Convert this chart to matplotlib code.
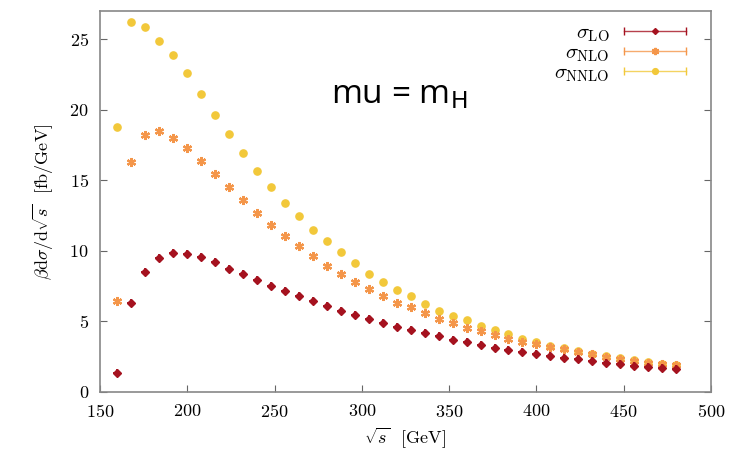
import numpy as np
import matplotlib
matplotlib.use("Agg")
from matplotlib import pyplot as plt
from matplotlib.lines import Line2D
from matplotlib.legend_handler import HandlerBase

# centre-of-mass energy bins [GeV]
sqrt_s = np.arange(160, 481, 8)

# beta * dsigma/dsqrt(s) [fb/GeV], scale mu = m_H
sigma_lo = [1.38, 6.31, 8.49, 9.50, 9.86, 9.79, 9.55, 9.18, 8.75, 8.35,
            7.97, 7.52, 7.16, 6.81, 6.43, 6.10, 5.72, 5.44, 5.16, 4.87,
            4.64, 4.38, 4.16, 3.95, 3.72, 3.54, 3.33, 3.15, 2.98, 2.84,
            2.70, 2.55, 2.44, 2.32, 2.20, 2.09, 1.96, 1.87, 1.77, 1.70, 1.63]
sigma_nlo = [6.45, 16.27, 18.23, 18.47, 17.99, 17.28, 16.38, 15.44, 14.50, 13.63,
             12.65, 11.87, 11.06, 10.35, 9.65, 8.94, 8.35, 7.76, 7.28, 6.77,
             6.34, 5.99, 5.58, 5.20, 4.87, 4.52, 4.30, 4.02, 3.79, 3.57,
             3.38, 3.22, 3.03, 2.84, 2.67, 2.51, 2.37, 2.23, 2.09, 1.99, 1.89]
sigma_nnlo = [18.80, 26.24, 25.84, 24.90, 23.90, 22.60, 21.13, 19.65, 18.28, 16.91,
              15.63, 14.50, 13.38, 12.44, 11.49, 10.67, 9.89, 9.13, 8.35, 7.76,
              7.23, 6.81, 6.22, 5.74, 5.39, 5.11, 4.68, 4.38, 4.09, 3.79,
              3.55, 3.26, 3.10, 2.91, 2.72, 2.55, 2.41, 2.27, 2.13, 2.01, 1.91]

labels = [r'$\sigma_{\rm LO}$', r'$\sigma_{\rm NLO}$', r'$\sigma_{\rm NNLO}$']
colors = ['#a5121f', '#f4964a', '#f2c83a']

plt.rcParams['font.family'] = 'serif'
plt.rcParams['font.serif'] = ['cmr10', 'DejaVu Serif']
plt.rcParams['mathtext.fontset'] = 'cm'
plt.rcParams['axes.formatter.use_mathtext'] = True


class ErrKey(HandlerBase):
    """gnuplot-like key sample: horizontal bar with end caps and a point."""

    def create_artists(self, legend, orig, xd, yd, width, height, fontsize, trans):
        y = yd + height / 2
        col = orig.get_color()
        bar = Line2D([xd, xd + width], [y, y], color=col, lw=1, alpha=0.8)
        caps = Line2D([xd, xd + width], [y, y], ls='none', marker='|',
                      ms=6, mew=1, color=col)
        pt = Line2D([xd + width / 2], [y], ls='none', marker=orig.get_marker(),
                    ms=orig.get_markersize() * 0.8, mew=orig.get_markeredgewidth(),
                    color=col)
        for a in (bar, caps, pt):
            a.set_transform(trans)
        return [bar, caps, pt]


fig = plt.figure(figsize=(7.34, 4.63), dpi=100)
ax = fig.add_axes([100 / 734, 71 / 463, 611 / 734, 381 / 463])

nnlo, = ax.plot(sqrt_s, sigma_nnlo, 'o', ms=5.2, color=colors[2], zorder=2)
nlo, = ax.plot(sqrt_s, sigma_nlo, marker=(6, 2, 0), ls='none', ms=6.5, mew=1.6,
               color=colors[1], zorder=3)
lo, = ax.plot(sqrt_s, sigma_lo, 'D', ms=3.8, color=colors[0], zorder=4)
ax.plot(sqrt_s, sigma_lo, '+', ms=6, mew=1.3, color=colors[0], zorder=4)

ax.legend([lo, nlo, nnlo], labels, handler_map={Line2D: ErrKey()},
          loc='upper right', frameon=False, fontsize=15, markerfirst=False,
          handlelength=3.0, handletextpad=0.7, labelspacing=0.0,
          borderaxespad=0.2, bbox_to_anchor=(0.98, 1.0))

ax.text(0.49, 0.78, r'mu = m$_{\mathsf{H}}$', transform=ax.transAxes,
        fontsize=24, family='Open Sans', weight='medium',
        math_fontfamily='dejavusans', ha='center', va='center', color='black')

ax.set_xlim(150, 500)
ax.set_ylim(0, 27)
ax.set_xticks(np.arange(150, 501, 50))
ax.set_yticks(np.arange(0, 26, 5))
ax.tick_params(direction='in', length=5, width=0.8, color='#666666',
               labelsize=13, right=True, top=False, pad=8)
for sp in ax.spines.values():
    sp.set_color('#888888')
    sp.set_linewidth(1.2)

ax.set_xlabel(r'$\sqrt{s}$  $[\mathrm{GeV}]$', fontsize=13, labelpad=4)
ax.set_ylabel(r'$\beta\mathrm{d}\sigma/\mathrm{d}\sqrt{s}$  $[\mathrm{fb/GeV}]$',
              fontsize=13, labelpad=10)

fig.savefig('out.png', dpi=100)
